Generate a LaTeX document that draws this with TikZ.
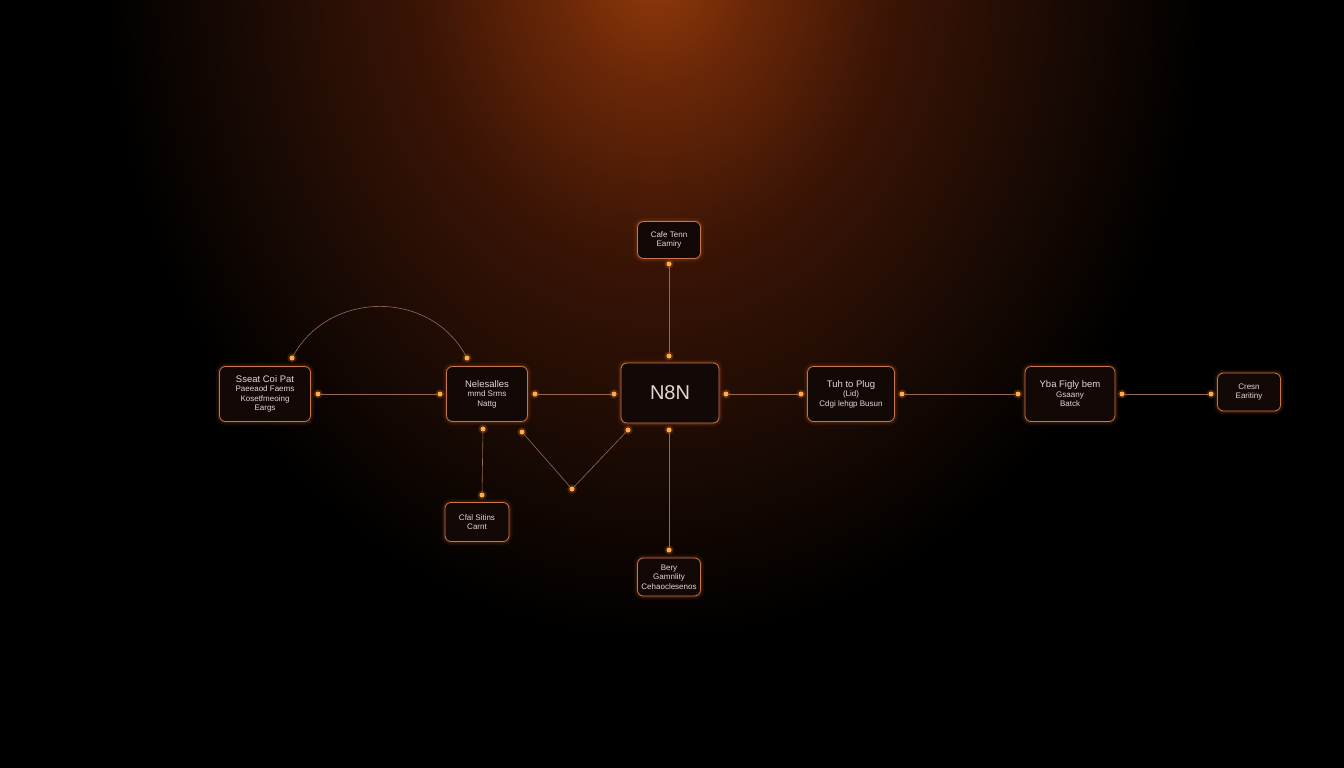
\documentclass[tikz,border=0pt]{standalone}
\usepackage{fontspec}
\setmainfont{Liberation Sans}
\usetikzlibrary{positioning}
\definecolor{glowA}{RGB}{150,60,10}
\definecolor{glowB}{RGB}{108,40,8}
\definecolor{glowC}{RGB}{58,20,5}
\definecolor{glowD}{RGB}{26,10,4}
\definecolor{boxline}{RGB}{200,116,78}
\definecolor{boxfill}{RGB}{18,9,7}
\definecolor{wire}{RGB}{150,104,84}
\definecolor{dotcol}{RGB}{255,172,72}
\definecolor{halo}{RGB}{230,110,30}
\definecolor{label}{RGB}{226,216,210}
\pgfdeclareradialshading{topglow}{\pgfpoint{0bp}{0bp}}{color(0bp)=(glowA); color(4bp)=(glowB); color(10bp)=(glowC); color(17bp)=(glowD); color(23bp)=(black); color(50bp)=(black)}
\tikzset{
	card/.style={draw=boxline, line width=0.8pt, rounded corners=6pt, fill=boxfill,
		text=label, align=center, inner sep=0pt,
		font=\fontsize{8}{9.5}\selectfont,
		preaction={draw=halo, line width=7pt, opacity=0.08},
		preaction={draw=halo, line width=3.5pt, opacity=0.14}},
	dot/.style={circle, fill=dotcol, inner sep=0pt, minimum size=5pt,
		preaction={fill=halo, opacity=0.25, draw=halo, line width=4pt}},
	wire/.style={draw=wire, line width=0.6pt}
}
\newcommand{\ttl}[1]{{\fontsize{9.5}{10.5}\selectfont #1}}
\begin{document}
\begin{tikzpicture}[x=1pt, y=-1pt]
	\useasboundingbox (0,0) rectangle (1344,768);
	\fill[black] (0,0) rectangle (1344,768);
	\begin{scope}
		\clip (0,0) rectangle (1344,768);
		\shade[shading=topglow] (655,-40) ellipse [x radius=600, y radius=740];
	\end{scope}

	\node[card, minimum width=91pt, minimum height=55pt] (seat) at (265,394) {\ttl{Sseat Coi Pat}\\Paeeaod Faems\\Kosetfmeoing\\Eargs};
	\node[card, minimum width=81pt, minimum height=55pt] (nele) at (487,394) {\ttl{Nelesalles}\\mmd Srms\\Nattg};
	\node[card, minimum width=98pt, minimum height=60pt, font=\fontsize{20}{22}\selectfont] (n8n) at (670,393) {N8N};
	\node[card, minimum width=87pt, minimum height=55pt] (plug) at (851,394) {\ttl{Tuh to Plug}\\(Lid)\\Cdgi lehgp Busun};
	\node[card, minimum width=90pt, minimum height=55pt] (figly) at (1070,394) {\ttl{Yba Figly bem}\\Gsaany\\Batck};
	\node[card, minimum width=63pt, minimum height=38pt] (cresn) at (1249,392) {Cresn\\Earitiny};
	\node[card, minimum width=63pt, minimum height=37pt] (cafe) at (669,240) {Cafe Tenn\\Eamiry};
	\node[card, minimum width=64pt, minimum height=39pt] (cfal) at (477,522) {Cfal Sitins\\Carnt};
	\node[card, minimum width=63pt, minimum height=38pt] (bery) at (669,577) {Bery\\Gamnlity\\Cehaoclesenos};

	\node[dot] (seatE) at (318,394) {};
	\node[dot] (neleW) at (440,394) {};
	\node[dot] (neleE) at (535,394) {};
	\node[dot] (n8nW) at (614,394) {};
	\node[dot] (n8nE) at (726,394) {};
	\node[dot] (plugW) at (801,394) {};
	\node[dot] (plugE) at (902,394) {};
	\node[dot] (figlyW) at (1018,394) {};
	\node[dot] (figlyE) at (1122,394) {};
	\node[dot] (cresnW) at (1211,394) {};
	\node[dot] (arcA) at (292,358) {};
	\node[dot] (arcB) at (467,358) {};
	\node[dot] (neleS) at (483,429) {};
	\node[dot] (cfalN) at (482,495) {};
	\node[dot] (vA) at (522,432) {};
	\node[dot] (vLow) at (572,489) {};
	\node[dot] (vB) at (628,430) {};
	\node[dot] (n8nN) at (669,356) {};
	\node[dot] (cafeS) at (669,264) {};
	\node[dot] (n8nS) at (669,430) {};
	\node[dot] (beryN) at (669,550) {};

	\draw[wire] (seatE) -- (neleW);
	\draw[wire] (neleE) -- (n8nW);
	\draw[wire] (n8nE) -- (plugW);
	\draw[wire] (plugE) -- (figlyW);
	\draw[wire] (figlyE) -- (cresnW);
	\draw[wire] (arcA) .. controls (330,290) and (430,290) .. (arcB);
	\draw[wire] (neleS) -- (cfalN);
	\draw[wire] (vA) -- (vLow) -- (vB);
	\draw[wire] (n8nN) -- (cafeS);
	\draw[wire] (n8nS) -- (beryN);
\end{tikzpicture}
\end{document}
